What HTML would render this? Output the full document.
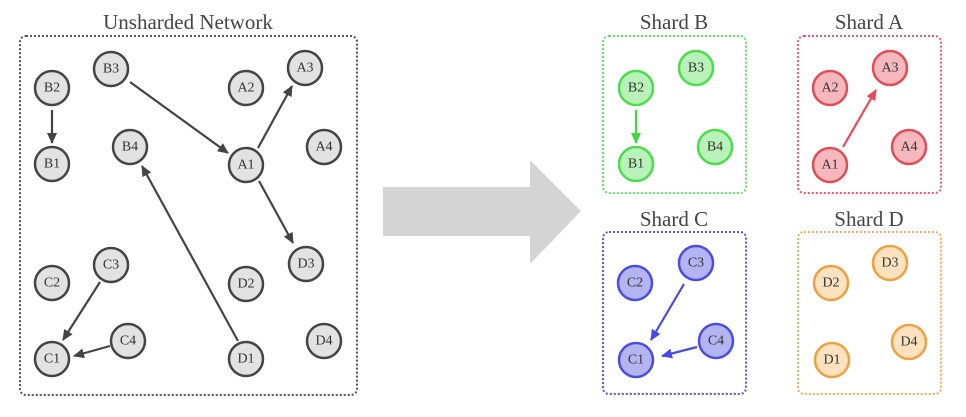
<!DOCTYPE html>
<html><head><meta charset="utf-8"><style>
html,body{margin:0;padding:0;background:#fff;width:966px;height:417px;overflow:hidden}
text{font-family:"Liberation Serif",serif}
.t{font-size:21px;fill:#444;text-anchor:middle}
.n{font-size:14px;fill:#333;text-anchor:middle;dominant-baseline:central}
</style></head><body>
<svg width="966" height="417" viewBox="0 0 966 417">
<defs>
<marker id="ag" markerWidth="11" markerHeight="10" refX="10" refY="5" orient="auto" markerUnits="userSpaceOnUse"><path d="M0,0 L11,5 L0,10 z" fill="#444"/></marker>
<marker id="agr" markerWidth="11" markerHeight="10" refX="10" refY="5" orient="auto" markerUnits="userSpaceOnUse"><path d="M0,0 L11,5 L0,10 z" fill="#3ed83e"/></marker>
<marker id="ar" markerWidth="11" markerHeight="10" refX="10" refY="5" orient="auto" markerUnits="userSpaceOnUse"><path d="M0,0 L11,5 L0,10 z" fill="#e84a5a"/></marker>
<marker id="ab" markerWidth="11" markerHeight="10" refX="10" refY="5" orient="auto" markerUnits="userSpaceOnUse"><path d="M0,0 L11,5 L0,10 z" fill="#4a4ae8"/></marker>
</defs>
<text class="t" x="188" y="29">Unsharded Network</text>
<rect x="20" y="36" width="337" height="359" rx="6" fill="none" stroke="#555" stroke-width="2" stroke-dasharray="2 2"/>
<g stroke="#444" stroke-width="2.2" marker-end="url(#ag)">
<line x1="52" y1="110" x2="52" y2="143"/>
<line x1="130" y1="82" x2="228" y2="153"/>
<line x1="258" y1="148" x2="292" y2="86"/>
<line x1="259" y1="181" x2="293" y2="243"/>
<line x1="238" y1="341" x2="142" y2="166"/>
<line x1="100" y1="282" x2="63" y2="340"/>
<line x1="110" y1="346" x2="74" y2="356"/>
</g>
<g fill="#e2e2e2" stroke="#444" stroke-width="2.5">
<circle cx="111" cy="69" r="17"/><circle cx="52" cy="88" r="17"/><circle cx="52" cy="164" r="17"/><circle cx="130" cy="147" r="17"/>
<circle cx="246" cy="88" r="17"/><circle cx="305" cy="68" r="17"/><circle cx="246" cy="165" r="17"/><circle cx="324" cy="147" r="17"/>
<circle cx="111" cy="265" r="17"/><circle cx="52" cy="283" r="17"/><circle cx="52" cy="359" r="17"/><circle cx="128" cy="341" r="17"/>
<circle cx="246" cy="284" r="17"/><circle cx="306" cy="264" r="17"/><circle cx="246" cy="359" r="17"/><circle cx="324" cy="341" r="17"/>
</g>
<g>
<text class="n" x="111" y="69">B3</text><text class="n" x="52" y="88">B2</text><text class="n" x="52" y="164">B1</text><text class="n" x="130" y="147">B4</text>
<text class="n" x="246" y="88">A2</text><text class="n" x="305" y="68">A3</text><text class="n" x="246" y="165">A1</text><text class="n" x="324" y="147">A4</text>
<text class="n" x="111" y="265">C3</text><text class="n" x="52" y="283">C2</text><text class="n" x="52" y="359">C1</text><text class="n" x="128" y="341">C4</text>
<text class="n" x="246" y="284">D2</text><text class="n" x="306" y="264">D3</text><text class="n" x="246" y="359">D1</text><text class="n" x="324" y="341">D4</text>
</g>
<polygon points="383,187 530,187 530,160 581,211 530,264 530,236 383,236" fill="#d4d4d4"/>
<text class="t" x="674" y="29">Shard B</text>
<rect x="603" y="36" width="143" height="157" rx="6" fill="none" stroke="#5fe05f" stroke-width="2" stroke-dasharray="2 2"/>
<line x1="636" y1="110" x2="636" y2="143" stroke="#3ed83e" stroke-width="2.2" marker-end="url(#agr)"/>
<g fill="#b8f2b8" stroke="#4cdc4c" stroke-width="2.5">
<circle cx="696" cy="68" r="17"/><circle cx="636" cy="88" r="17"/><circle cx="636" cy="164" r="17"/><circle cx="715" cy="147" r="17"/>
</g>
<text class="n" x="696" y="68">B3</text><text class="n" x="636" y="88">B2</text><text class="n" x="636" y="164">B1</text><text class="n" x="715" y="147">B4</text>
<text class="t" x="869" y="29">Shard A</text>
<rect x="798" y="36" width="143" height="157" rx="6" fill="none" stroke="#e85a6a" stroke-width="2" stroke-dasharray="2 2"/>
<line x1="843" y1="147" x2="876" y2="90" stroke="#e84a5a" stroke-width="2.2" marker-end="url(#ar)"/>
<g fill="#f6b8bc" stroke="#e04c58" stroke-width="2.5">
<circle cx="890" cy="68" r="17"/><circle cx="830" cy="88" r="17"/><circle cx="830" cy="165" r="17"/><circle cx="909" cy="147" r="17"/>
</g>
<text class="n" x="890" y="68">A3</text><text class="n" x="830" y="88">A2</text><text class="n" x="830" y="165">A1</text><text class="n" x="909" y="147">A4</text>
<text class="t" x="674" y="226">Shard C</text>
<rect x="603" y="232" width="143" height="162" rx="6" fill="none" stroke="#5555e0" stroke-width="2" stroke-dasharray="2 2"/>
<g stroke="#4a4ae8" stroke-width="2.2" marker-end="url(#ab)">
<line x1="684" y1="284" x2="651" y2="340"/>
<line x1="697" y1="347" x2="662" y2="356"/>
</g>
<g fill="#b4b4f2" stroke="#4c4ce0" stroke-width="2.5">
<circle cx="696" cy="263" r="17"/><circle cx="635" cy="283" r="17"/><circle cx="636" cy="360" r="17"/><circle cx="716" cy="341" r="17"/>
</g>
<text class="n" x="696" y="263">C3</text><text class="n" x="635" y="283">C2</text><text class="n" x="636" y="360">C1</text><text class="n" x="716" y="341">C4</text>
<text class="t" x="869" y="226">Shard D</text>
<rect x="798" y="232" width="143" height="162" rx="6" fill="none" stroke="#f2ae5a" stroke-width="2" stroke-dasharray="2 2"/>
<g fill="#fde2c0" stroke="#f0a040" stroke-width="2.5">
<circle cx="890" cy="263" r="17"/><circle cx="831" cy="283" r="17"/><circle cx="832" cy="360" r="17"/><circle cx="909" cy="342" r="17"/>
</g>
<text class="n" x="890" y="263">D3</text><text class="n" x="831" y="283">D2</text><text class="n" x="832" y="360">D1</text><text class="n" x="909" y="342">D4</text>
</svg>
</body></html>
